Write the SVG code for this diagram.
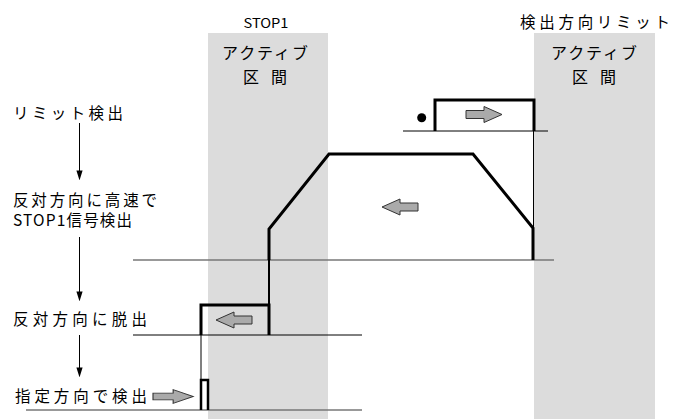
<svg xmlns="http://www.w3.org/2000/svg" xmlns:xlink="http://www.w3.org/1999/xlink" width="683" height="419" viewBox="0 0 683 419">
<style>
text{font-family:"Noto Sans CJK JP","DejaVu Sans",sans-serif;fill:#000;}
.lbl{font-size:15.5px;}
.band{fill:#dcdcdc;}
.act{font-size:16px;text-anchor:middle;}
.thick{fill:none;stroke:#000;stroke-width:3;stroke-linejoin:miter;}
.thin{fill:none;stroke:#000;stroke-width:1;}
.base{fill:none;stroke:#777;stroke-width:1.5;}
.flow{stroke:#000;stroke-width:1;fill:none;}
.ga{fill:#aaa;stroke:#333;stroke-width:1;}
</style>
<defs>
<marker id="ah" markerWidth="10" markerHeight="16" refX="9" refY="5" orient="auto" markerUnits="userSpaceOnUse" viewBox="0 0 16 10">
<path d="M0,0 L16,5 L0,10 Z" fill="#000"/>
</marker>
<path id="garrow" d="M0,-4 H18 V-8 L36,0 L18,8 V4 H0 Z"/>
</defs>
<rect width="683" height="419" fill="#fff"/>
<g id="band-stop1">
<rect class="band" x="208" y="33" width="120" height="386"/>
<text x="266" y="28" font-size="13" text-anchor="middle" textLength="45" lengthAdjust="spacingAndGlyphs">STOP1</text>
<text class="act" x="265" y="59" textLength="86">アクティブ</text>
<text class="act" x="265" y="82.5" textLength="44">区間</text>
</g>
<g id="band-limit">
<rect class="band" x="534" y="33" width="121" height="386"/>
<text class="lbl" x="595" y="28" text-anchor="middle" textLength="150">検出方向リミット</text>
<text class="act" x="594" y="59" textLength="86">アクティブ</text>
<text class="act" x="594" y="82.5" textLength="44">区間</text>
</g>
<g id="step1">
<text class="lbl" x="13" y="119" textLength="110">リミット検出</text>
</g>
<g id="step2">
<text class="lbl" x="13" y="206" textLength="144">反対方向に高速で</text>
<text class="lbl" x="13" y="226" textLength="119">STOP1信号検出</text>
</g>
<g id="step3">
<text class="lbl" x="13" y="325" textLength="134">反対方向に脱出</text>
</g>
<g id="step4">
<text class="lbl" x="15" y="402" textLength="132">指定方向で検出</text>
</g>
<g id="connectors">
<line class="flow" x1="79.5" y1="123" x2="79.5" y2="176" marker-end="url(#ah)"/>
<line class="flow" x1="79.5" y1="237" x2="79.5" y2="297" marker-end="url(#ah)"/>
<line class="flow" x1="79.5" y1="335" x2="79.5" y2="373" marker-end="url(#ah)"/>
</g>
<g id="motion">
<line class="thin" x1="403" y1="131" x2="548" y2="131"/>
<line class="base" x1="133" y1="260" x2="554" y2="260"/>
<line class="thin" x1="133" y1="335" x2="362" y2="335"/>
<line class="base" x1="26" y1="410" x2="362" y2="410"/>
<circle cx="421.7" cy="117.7" r="4.5" fill="#000"/>
<path class="thick" d="M435,131 V100 H534 V131"/>
<line class="thin" x1="533.5" y1="131" x2="533.5" y2="228"/>
<path class="thick" d="M269,260 V229 L329,154 H473 L533,228 V260"/>
<line x1="269" y1="260" x2="269" y2="305" stroke="#000" stroke-width="2"/>
<path class="thick" d="M201,335 V305 H269 V335"/>
<line class="thin" x1="201" y1="335" x2="201" y2="380"/>
<path class="thick" d="M201,410 V380 H208 V410" style="stroke-width:2.5"/>
<use href="#garrow" class="ga" transform="translate(466,114.5)"/>
<use href="#garrow" class="ga" transform="translate(418,207) scale(-1,1)"/>
<use href="#garrow" class="ga" transform="translate(252,320) scale(-1,1)"/>
<use href="#garrow" class="ga" transform="translate(153,396.5) scale(1.12,0.85)"/>
</g>
</svg>
